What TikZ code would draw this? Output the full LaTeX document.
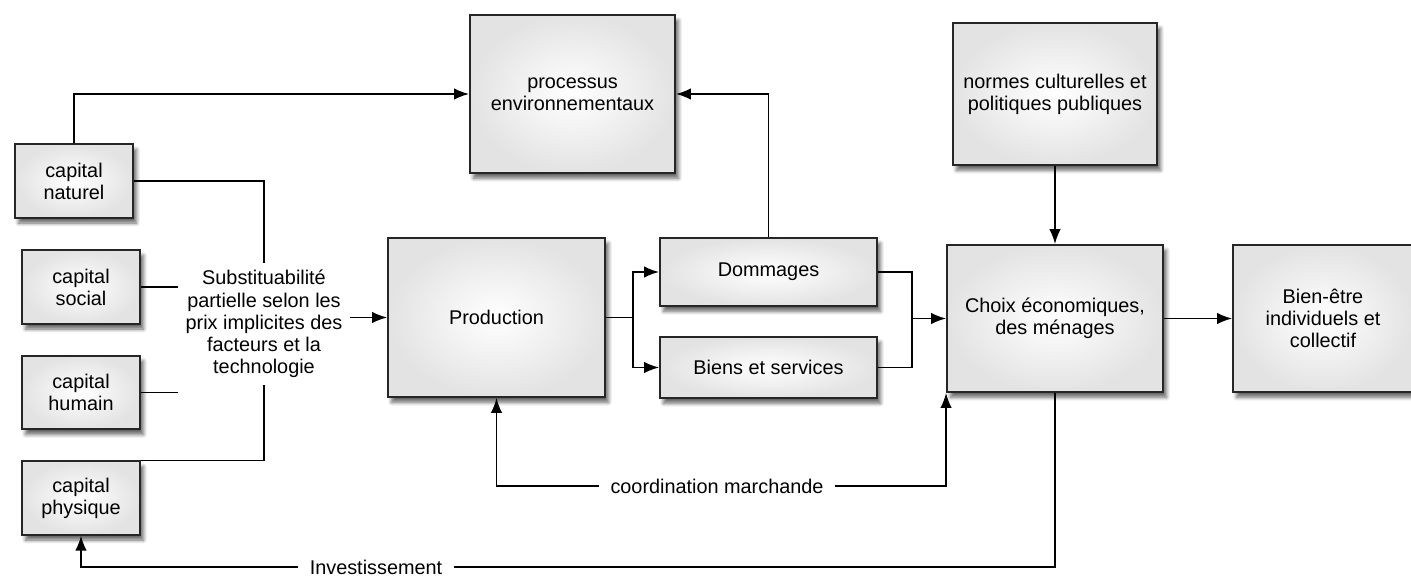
\documentclass[tikz,border=0pt]{standalone}
\usepackage{fontspec}
\setmainfont{Liberation Sans}
\usetikzlibrary{arrows.meta,shadows,shadows.blur}

\tikzset{
  box/.style={draw=black!85, line width=1.1pt, align=center, inner sep=2pt,
    shading=radial, inner color=white, outer color=black!11,
    blur shadow={shadow xshift=2pt, shadow yshift=-3pt, shadow blur steps=6, shadow opacity=60}},
  capbox/.style={box, minimum width=2.36cm, minimum height=1.47cm},
  wire/.style={line width=0.9pt},
  arr/.style={wire, -{Latex[length=8.5pt,width=6.5pt]}},
  lab/.style={fill=white, inner sep=0.22cm}
}

\begin{document}
\begin{tikzpicture}[x=0.02cm, y=-0.02cm, every node/.style={font=\fontsize{11.3}{12.6}\selectfont}]
  \useasboundingbox (0,0) rectangle (1411,578);

  % capital stocks
  \foreach \nm/\x/\y/\lab in {naturel/74/181/naturel, social/81/287/social,
                             humain/81/392.5/humain, physique/81/498/physique} {
    \node[capbox] (\nm) at (\x,\y) {capital\\\lab};
  }

  % substitution text
  \node[align=center, inner sep=0.15cm] (subst) at (264,324)
    {Substituabilité\\partielle selon les\\prix implicites des\\facteurs et la\\technologie};

  % main boxes
  \node[box, minimum width=4.1cm, minimum height=3.16cm] (processus) at (572.5,94)
    {processus\\environnementaux};
  \node[box, minimum width=4.34cm, minimum height=3.18cm] (production) at (496.5,317.5)
    {Production};
  \node[box, minimum width=4.34cm, minimum height=1.36cm] (dommages) at (768.5,272)
    {Dommages};
  \node[box, minimum width=4.34cm, minimum height=1.22cm] (biens) at (768.5,367.5)
    {Biens et services};
  \node[box, minimum width=4.08cm, minimum height=2.84cm] (normes) at (1055,94)
    {normes culturelles et\\politiques publiques};
  \node[box, minimum width=4.32cm, minimum height=2.94cm] (choix) at (1055,318.5)
    {Choix économiques,\\des ménages};
  \node[box, minimum width=3.6cm, minimum height=2.94cm] (bienetre) at (1323,318.5)
    {Bien-être\\individuels et\\collectif};

  % loop labels
  \node[lab] (coord) at (717,486) {coordination marchande};
  \node[lab] (invest) at (376,567) {Investissement};

  \coordinate (split) at (633,317.5);
  \coordinate (merge) at (912,318.5);

  % capitals into production
  \draw[wire] (naturel.east) -| (subst.north);
  \foreach \nm in {social,humain} {
    \draw[wire] (\nm.east) -- (\nm.east -| subst.west);
  }
  \draw[wire] (physique.north east) -| (subst.south);
  \draw[arr] (subst.east |- production.west) -- (production.west);
  \draw[arr] (naturel.north) |- (processus.west);

  % production outputs
  \draw[wire] (production.east) -- (split);
  \draw[arr] (split) |- (dommages.west);
  \draw[arr] (split) |- (biens.west);
  \draw[arr] (dommages.north) |- (processus.east);
  \draw[wire] (dommages.east) -| (merge);
  \draw[wire] (biens.east) -| (merge);
  \draw[arr] (merge) -- (choix.west);

  % choices
  \draw[arr] (normes.south) -- (choix.north);
  \draw[arr] (choix.east) -- (bienetre.west);

  % feedback loops
  \draw[arr] (coord.west) -| (production.south);
  \draw[arr] (coord.east) -| (choix.south west);
  \draw[wire] (choix.south) |- (invest.east);
  \draw[arr] (invest.west) -| (physique.south);
\end{tikzpicture}
\end{document}
